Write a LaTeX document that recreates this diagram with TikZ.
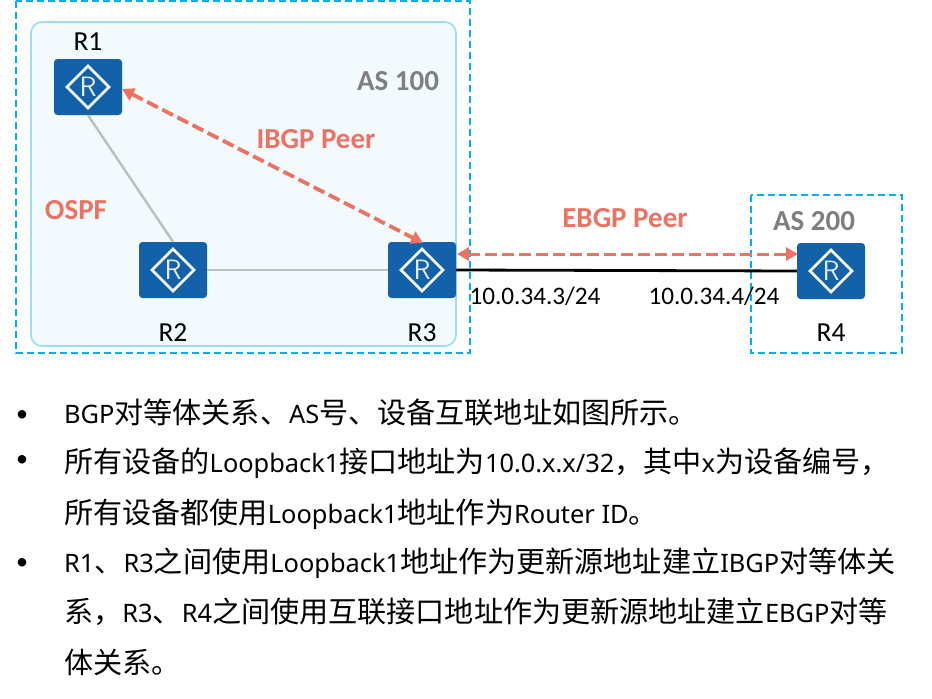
\documentclass[tikz,border=0pt]{standalone}
\usepackage{fontspec}
\usetikzlibrary{arrows.meta}
\setmainfont{Carlito}
\newfontfamily\cjk{Noto Sans CJK SC}
\newfontfamily\latbody{Noto Sans}
\newcommand{\lat}[1]{{\fontsize{25.4}{25.4}\latbody #1}}
\definecolor{routerblue}{HTML}{1261A9}
\definecolor{dashblue}{HTML}{00B0F0}
\definecolor{panelfill}{HTML}{F2FAFE}
\definecolor{panelline}{HTML}{9BDDF7}
\definecolor{peerred}{HTML}{ED7262}
\definecolor{asgray}{HTML}{7F7F7F}
\definecolor{linkgray}{HTML}{BFBFBF}
\tikzset{
  router/.style={fill=routerblue,rounded corners=3.5pt,minimum width=68pt,minimum height=56pt,inner sep=0pt,text=routerblue!12!white,font=\fontsize{28}{28}\sffamily},
  asbox/.style={draw=dashblue,line width=1.9pt,dash pattern=on 7pt off 4pt},
  devlabel/.style={font=\fontsize{27.5}{27.5}\selectfont,text=black,inner sep=0pt},
  peerlabel/.style={font=\fontsize{29}{29}\selectfont\bfseries,text=peerred,inner sep=0pt},
  aslabel/.style={font=\fontsize{29}{29}\selectfont\bfseries,text=asgray,inner sep=0pt},
  addrlabel/.style={font=\fontsize{25.2}{25.2}\selectfont,text=black,inner sep=0pt},
  peerlink/.style={draw=peerred,dash pattern=on 12pt off 5pt,{Triangle[length=12pt,width=13pt]}-{Triangle[length=12pt,width=13pt]}},
  ospflink/.style={draw=linkgray,line width=2.5pt},
  bgplink/.style={draw=black,line width=2.8pt},
  bullet/.style={font=\fontsize{24}{24}\selectfont,inner sep=0pt},
  bodyline/.style={anchor=base west,inner sep=0pt,font=\fontsize{29.1}{29.1}\cjk,text=black}
}
\newcommand{\routerdiamond}[1]{\draw[white,line width=2.8pt] (#1)+(0,-21) -- +(21,0) -- +(0,21) -- +(-21,0) -- cycle;}
\begin{document}
\begin{tikzpicture}[x=1pt,y=-1pt]
\useasboundingbox (0,0) rectangle (932,699);
\fill[white] (0,0) rectangle (932,699);
\draw[draw=panelline,fill=panelfill,line width=1.6pt,rounded corners=11pt] (31,22) rectangle (456,346);
\draw[asbox] (16,1) rectangle (470,353);
\draw[asbox] (751,195) rectangle (902,353);

\node[router] (r1) at (88,87) {R};
\node[router] (r2) at (173,270) {R};
\node[router] (r3) at (422,270) {R};
\node[router] (r4) at (831,271) {R};
\routerdiamond{r1}\routerdiamond{r2}\routerdiamond{r3}\routerdiamond{r4}

\draw[ospflink] (r1.south) -- (r2.north);
\draw[ospflink] (r2.east) -- (r3.west);
\draw[bgplink] (r3.east) -- (r4.west);
\coordinate (r1tip) at (122,89);
\coordinate (r3tip) at (423,243);
\coordinate (r3e) at (457,254);
\coordinate (r4w) at (798,254);
\draw[peerlink,line width=3.8pt] (r1tip) -- (r3tip);
\draw[peerlink,line width=3pt] (r3e) -- (r4w);

\node[devlabel] (l1) at (88,42) {R1};
\node[devlabel] (l2) at (173,333) {R2};
\node[devlabel] (l3) at (422,333) {R3};
\node[devlabel] (l4) at (831,333) {R4};
\node[aslabel] (as1) at (398,81) {AS 100};
\node[aslabel] (as2) at (814,221) {AS 200};
\node[peerlabel] (ibgp) at (316,139) {IBGP Peer};
\node[peerlabel] (ebgp) at (625,218) {EBGP Peer};
\node[peerlabel] (ospf) at (76,210) {OSPF};
\node[addrlabel] (a3) at (535,296) {10.0.34.3/24};
\node[addrlabel] (a4) at (714,296) {10.0.34.4/24};

\node[bullet] (b1) at (22,416) {•};
\node[bullet] (b2) at (22,461) {•};
\node[bullet] (b3) at (22,564) {•};
\node[bodyline] (t1) at (64,423) {\lat{BGP}对等体关系、\lat{AS}号、设备互联地址如图所示。};
\node[bodyline] (t2) at (64,472) {所有设备的\lat{Loopback1}接口地址为\lat{10.0.x.x/32}，其中\lat{x}为设备编号，};
\node[bodyline] (t3) at (64,523) {所有设备都使用\lat{Loopback1}地址作为\lat{Router ID}。};
\node[bodyline] (t4) at (64,572) {\lat{R1}、\lat{R3}之间使用\lat{Loopback1}地址作为更新源地址建立\lat{IBGP}对等体关};
\node[bodyline] (t5) at (64,622) {系，\lat{R3}、\lat{R4}之间使用互联接口地址作为更新源地址建立\lat{EBGP}对等};
\node[bodyline] (t6) at (64,673) {体关系。};
\end{tikzpicture}
\end{document}
